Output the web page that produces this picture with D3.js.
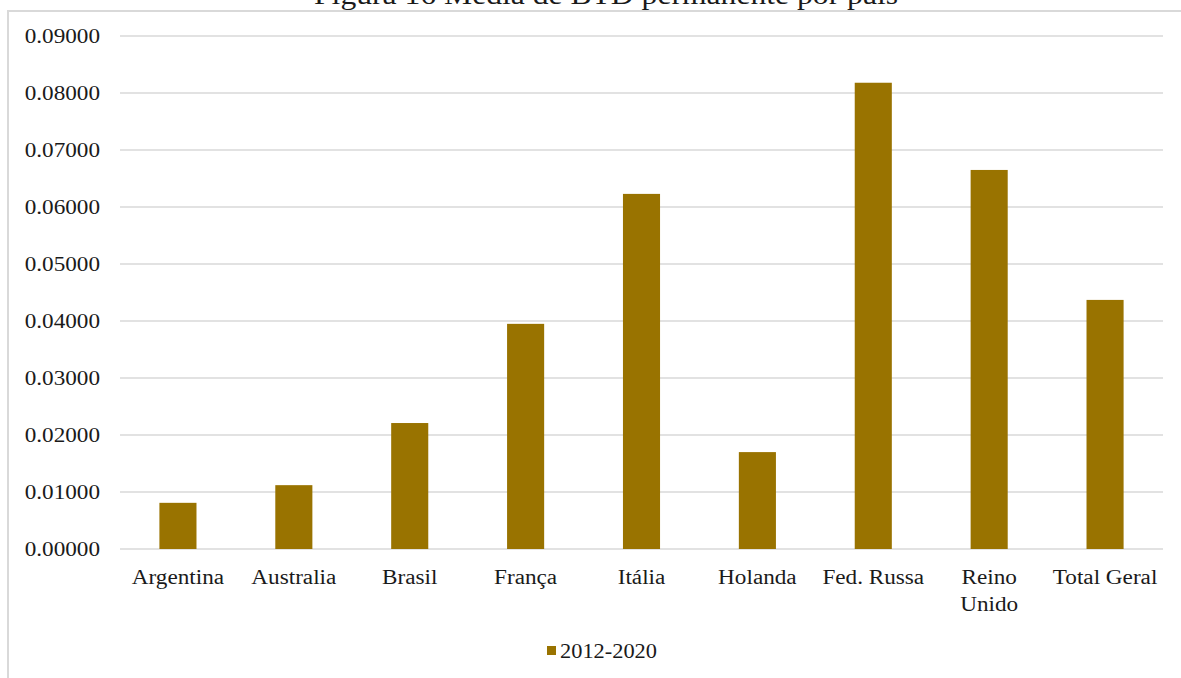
<!DOCTYPE html>
<html>
<head>
<meta charset="utf-8">
<script src="https://cdn.jsdelivr.net/npm/d3@7"></script>
<style>
  body { margin: 0; background: #fff; }
  svg text { font-family: "Liberation Serif", "Times New Roman", serif; fill: #1a1a1a; }
</style>
</head>
<body>
<svg id="chart" width="1181" height="678"></svg>
<script>
const categories = ["Argentina", "Australia", "Brasil", "França", "Itália", "Holanda", "Fed. Russa", "Reino Unido", "Total Geral"];
const values = [0.0081, 0.0112, 0.0221, 0.0395, 0.0623, 0.0170, 0.0818, 0.0665, 0.0437];
const yTicks = [0, 0.01, 0.02, 0.03, 0.04, 0.05, 0.06, 0.07, 0.08, 0.09];
const seriesName = "2012-2020";
const titleText = "Figura 16 Média de BTD permanente por país";

const barColor = "#997300";
const stretch = 1.16; // the original text is slightly wide
const margin = { top: 36, right: 18, bottom: 129, left: 120 };
const width = 1181 - margin.left - margin.right;
const height = 678 - margin.top - margin.bottom;

const root = d3.select("#chart");

// chart area frame (only top and left edges are visible)
root.append("rect")
    .attr("x", 8)
    .attr("y", 11)
    .attr("width", 1200)
    .attr("height", 700)
    .attr("fill", "none")
    .attr("stroke", "#d9d9d9")
    .attr("stroke-width", 2);

// title sits above the frame and is cropped by the top edge, as in the original
root.append("text")
    .attr("transform", `translate(606,4) scale(1.13,1)`)
    .attr("text-anchor", "middle")
    .style("font-size", "28px")
    .text(titleText);

const svg = root.append("g")
    .attr("transform", `translate(${margin.left},${margin.top})`);

const x = d3.scaleBand()
    .domain(categories)
    .range([0, width])
    .paddingInner(0.68)
    .paddingOuter(0.34);

const y = d3.scaleLinear()
    .domain([0, 0.09])
    .range([height, 0]);

svg.append("g")
    .selectAll("line")
    .data(yTicks)
    .enter()
    .append("line")
    .attr("x1", 0)
    .attr("x2", width)
    .attr("y1", d => y(d))
    .attr("y2", d => y(d))
    .attr("stroke", "#d9d9d9")
    .attr("stroke-width", 1.5);

svg.append("g")
    .selectAll("text")
    .data(yTicks)
    .enter()
    .append("text")
    .attr("transform", d => `translate(-20,${y(d)}) scale(${stretch},1)`)
    .attr("dy", "0.35em")
    .attr("text-anchor", "end")
    .style("font-size", "20px")
    .text(d => d3.format(".5f")(d));

svg.append("g")
    .selectAll("rect")
    .data(values)
    .enter()
    .append("rect")
    .attr("x", (d, i) => x(categories[i]))
    .attr("y", d => y(d))
    .attr("width", x.bandwidth())
    .attr("height", d => height - y(d))
    .attr("fill", barColor);

// category labels, wrapped like the original
const labelLines = { "Reino Unido": ["Reino", "Unido"] };
const xl = svg.append("g")
    .selectAll("text")
    .data(categories)
    .enter()
    .append("text")
    .attr("transform", d => `translate(${x(d) + x.bandwidth() / 2},${height + 35}) scale(${stretch},1)`)
    .attr("text-anchor", "middle")
    .style("font-size", "20px");

xl.each(function(d) {
    const lines = labelLines[d] || [d];
    d3.select(this).selectAll("tspan")
        .data(lines)
        .enter()
        .append("tspan")
        .attr("x", 0)
        .attr("dy", (l, i) => i === 0 ? 0 : 27)
        .text(l => l);
});

// legend
const legend = root.append("g")
    .attr("transform", "translate(547,646)");
legend.append("rect")
    .attr("width", 9)
    .attr("height", 9)
    .attr("fill", barColor);
legend.append("text")
    .attr("transform", `translate(13,12) scale(1.12,1)`)
    .style("font-size", "20px")
    .text(seriesName);
</script>
</body>
</html>
